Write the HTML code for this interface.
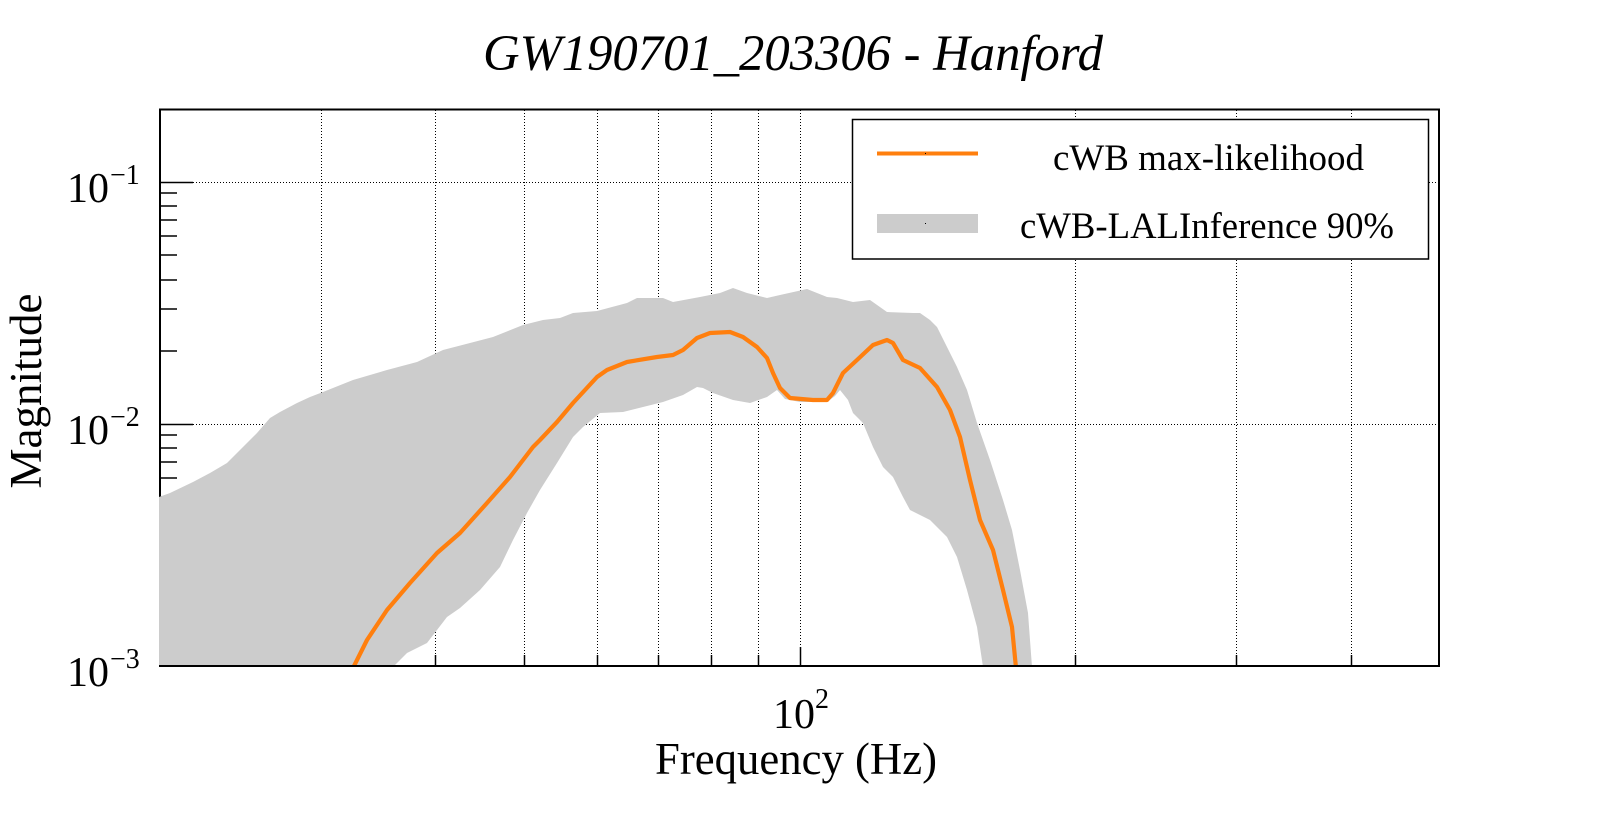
<!DOCTYPE html>
<html>
<head>
<meta charset="utf-8">
<style>
html,body{margin:0;padding:0;background:#fff;}
svg{display:block;}
text{font-family:"Liberation Serif","Times New Roman",serif;fill:#000;}
</style>
</head>
<body>
<svg width="1599" height="813" viewBox="0 0 1599 813" xmlns="http://www.w3.org/2000/svg">
<defs>
<clipPath id="pc"><rect x="159" y="109" width="1281" height="557"/></clipPath>
</defs>
<rect x="0" y="0" width="1599" height="813" fill="#fff"/>

<!-- grid -->
<g stroke="#000" stroke-width="1" stroke-dasharray="1,2" fill="none">
<line x1="321.5" y1="110" x2="321.5" y2="655"/>
<line x1="435.5" y1="110" x2="435.5" y2="655"/>
<line x1="524.5" y1="110" x2="524.5" y2="655"/>
<line x1="597.5" y1="110" x2="597.5" y2="655"/>
<line x1="658.5" y1="110" x2="658.5" y2="655"/>
<line x1="711.5" y1="110" x2="711.5" y2="655"/>
<line x1="758.5" y1="110" x2="758.5" y2="655"/>
<line x1="800.5" y1="110" x2="800.5" y2="647"/>
<line x1="1075.5" y1="110" x2="1075.5" y2="655"/>
<line x1="1236.5" y1="110" x2="1236.5" y2="655"/>
<line x1="1351.5" y1="110" x2="1351.5" y2="655"/>
<line x1="193" y1="182.5" x2="1438" y2="182.5"/>
<line x1="193" y1="424.5" x2="1438" y2="424.5"/>
</g>

<!-- ticks -->
<g stroke="#000" stroke-width="1.5" fill="none">
<!-- y major -->
<line x1="160" y1="182.5" x2="193" y2="182.5"/>
<line x1="160" y1="424.5" x2="193" y2="424.5"/>
<!-- y minor upper decade -->
<line x1="160" y1="193" x2="177" y2="193"/>
<line x1="160" y1="206" x2="177" y2="206"/>
<line x1="160" y1="220" x2="177" y2="220"/>
<line x1="160" y1="236" x2="177" y2="236"/>
<line x1="160" y1="255" x2="177" y2="255"/>
<line x1="160" y1="280" x2="177" y2="280"/>
<line x1="160" y1="309" x2="177" y2="309"/>
<line x1="160" y1="351" x2="177" y2="351"/>
<!-- y minor lower decade -->
<line x1="160" y1="435" x2="177" y2="435"/>
<line x1="160" y1="448" x2="177" y2="448"/>
<line x1="160" y1="462" x2="177" y2="462"/>
<line x1="160" y1="478" x2="177" y2="478"/>
<line x1="160" y1="497" x2="177" y2="497"/>
<line x1="160" y1="522" x2="177" y2="522"/>
<line x1="160" y1="551" x2="177" y2="551"/>
<line x1="160" y1="593" x2="177" y2="593"/>
<!-- x ticks -->
<line x1="321.5" y1="655" x2="321.5" y2="666"/>
<line x1="435.5" y1="655" x2="435.5" y2="666"/>
<line x1="524.5" y1="655" x2="524.5" y2="666"/>
<line x1="597.5" y1="655" x2="597.5" y2="666"/>
<line x1="658.5" y1="655" x2="658.5" y2="666"/>
<line x1="711.5" y1="655" x2="711.5" y2="666"/>
<line x1="758.5" y1="655" x2="758.5" y2="666"/>
<line x1="800.5" y1="647" x2="800.5" y2="666"/>
<line x1="1075.5" y1="655" x2="1075.5" y2="666"/>
<line x1="1236.5" y1="655" x2="1236.5" y2="666"/>
<line x1="1351.5" y1="655" x2="1351.5" y2="666"/>
</g>

<!-- frame -->
<rect x="160" y="109.5" width="1279" height="556.5" fill="none" stroke="#000" stroke-width="2"/>

<!-- band -->
<g clip-path="url(#pc)">
<polygon fill="#cccccc" points="
159,497 170,493 193,482 210,473 227,463 240,450 257,433 270,418 280,412 297,403 310,397 323,392 353,380 387,370 417,362 443,350 470,343 493,337 523,325 543,320 560,318 573,313 597,311 627,303 637,298 663,298 673,302 700,297 720,293 733,288 747,293 767,298 780,295 807,289 817,293 827,297 837,298 853,302 870,300 887,312 913,313 920,313 930,320 937,327 947,347 957,367 967,390 977,423 990,460 1003,500 1012,530 1020,570 1028,613 1032,667
983,667 977,627 967,590 957,557 947,537 930,520 910,510 903,497 893,477 883,467 873,447 863,423 853,413 848,400 840,390 835,396 827,402 800,402 785,399 777,390 767,397 750,403 733,400 713,393 703,388 697,387 683,395 663,402 643,407 623,412 600,413 583,427 573,437 557,463 540,490 527,513 513,540 500,567 480,590 460,608 447,617 437,630 427,643 407,653 393,667 159,667"/>
<polyline fill="none" stroke="#ff7f0e" stroke-width="4.2" stroke-linejoin="round" stroke-linecap="butt" points="
353,668 367,640 387,610 410,583 437,553 460,533 487,503 510,477 533,447 540,440 557,422 573,403 597,377 607,370 627,362 657,357 673,355 683,350 697,338 710,333 730,332 743,337 757,347 767,358 773,373 780,388 790,398 813,400 827,400 833,393 843,373 857,360 873,345 887,340 893,343 903,360 920,368 937,387 950,410 960,437 970,480 980,520 993,550 1003,590 1012,627 1016,668"/>
</g>
<!-- bottom axis line redrawn -->
<line x1="159" y1="666" x2="1440" y2="666" stroke="#000" stroke-width="2"/>

<!-- legend -->
<rect x="852.5" y="119.5" width="576" height="139.5" fill="#fff" stroke="#000" stroke-width="1.5"/>
<line x1="877" y1="153.5" x2="978" y2="153.5" stroke="#ff7f0e" stroke-width="4"/>
<rect x="877" y="214" width="101" height="19" fill="#cccccc"/>
<rect x="925" y="153" width="1" height="1" fill="#000"/>
<rect x="925" y="223" width="1" height="1" fill="#000"/>
<text x="1053" y="170" font-size="37" textLength="311" lengthAdjust="spacingAndGlyphs">cWB max-likelihood</text>
<text x="1020" y="238" font-size="37" textLength="374" lengthAdjust="spacingAndGlyphs">cWB-LALInference 90%</text>

<!-- title -->
<text x="483" y="70" font-size="51" font-style="italic" textLength="620" lengthAdjust="spacingAndGlyphs">GW190701_203306 - Hanford</text>

<!-- y tick labels -->
<text x="67" y="202" font-size="42">10</text>
<text x="110" y="184" font-size="28">−1</text>
<text x="67" y="444" font-size="42">10</text>
<text x="110" y="426" font-size="28">−2</text>
<text x="67" y="686" font-size="42">10</text>
<text x="110" y="668" font-size="28">−3</text>

<!-- x tick label -->
<text x="773" y="728" font-size="42">10</text>
<text x="815" y="708" font-size="28">2</text>

<!-- axis titles -->
<text x="655" y="774" font-size="45" textLength="282" lengthAdjust="spacingAndGlyphs">Frequency (Hz)</text>
<text transform="translate(41,391) rotate(-90)" text-anchor="middle" font-size="45">Magnitude</text>
</svg>
</body>
</html>
